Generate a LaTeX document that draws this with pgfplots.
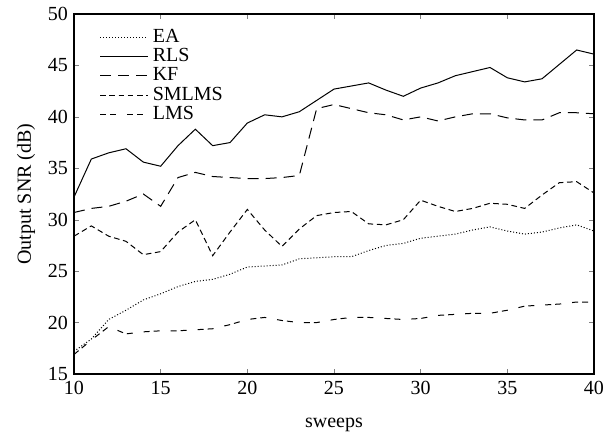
\documentclass[border=0pt]{standalone}
\usepackage{pgfplots}
\pgfplotsset{compat=1.18}
\usepackage{fontspec}
\setmainfont{Liberation Serif}
\begin{document}
\begin{tikzpicture}
\begin{axis}[
  name=main,
  scale only axis,
  width=260pt, height=180pt,
  xmin=10, xmax=40, ymin=15, ymax=50,
  xtick={10,15,...,40}, ytick={15,20,...,50},
  xticklabel={\pgfmathprintnumber{\tick}},
  yticklabel={\pgfmathprintnumber{\tick}},
  tick align=inside, major tick length=2.5pt,
  xtick pos=both, ytick pos=both,
  xlabel={sweeps}, ylabel={Output SNR (dB)},
  xlabel style={at={(axis description cs:0.5,-0.148)}, anchor=base},
  ylabel style={at={(axis description cs:-0.092,0.5)}, anchor=center},
  yticklabel style={xshift=0.5pt},
  font=\fontsize{10}{12}\selectfont,
  /pgf/number format/assume math mode=true,
  axis line style={line width=0.6pt},
  every axis plot/.append style={black, line width=0.5pt},
  legend style={at={(0.045,0.975)}, anchor=north west, draw=none, fill=none,
    row sep=-2.5pt, inner sep=1pt},
  legend cell align=left,
  legend image code/.code={\draw[#1] (0pt,0pt) -- (21pt,0pt);
    \path (0pt,0pt) -- (24pt,0pt);},
]
% EA
\addplot[densely dotted] coordinates {
(10,17.2) (11,18.4) (12,20.3) (13,21.2) (14,22.2) (15,22.8) (16,23.5) (17,24.0)
(18,24.2) (19,24.7) (20,25.4) (21,25.5) (22,25.6) (23,26.2) (24,26.3) (25,26.4)
(26,26.4) (27,27.0) (28,27.5) (29,27.7) (30,28.2) (31,28.4) (32,28.6) (33,29.0)
(34,29.3) (35,28.9) (36,28.6) (37,28.8) (38,29.2) (39,29.5) (40,28.9)};
\addlegendentry{EA}
% RLS
\addplot[solid] coordinates {
(10,32.2) (11,35.9) (12,36.5) (13,36.9) (14,35.6) (15,35.2) (16,37.2) (17,38.8)
(18,37.2) (19,37.5) (20,39.4) (21,40.2) (22,40.0) (23,40.5) (24,41.6) (25,42.7)
(26,43.0) (27,43.3) (28,42.6) (29,42.0) (30,42.8) (31,43.3) (32,44.0) (33,44.4)
(34,44.8) (35,43.8) (36,43.4) (37,43.7) (38,45.1) (39,46.5) (40,46.1)};
\addlegendentry{RLS}
% KF
\addplot[dash pattern=on 5.5pt off 3.5pt] coordinates {
(10,30.7) (11,31.1) (12,31.3) (13,31.8) (14,32.5) (15,31.3) (16,34.1) (17,34.6)
(18,34.2) (19,34.1) (20,34.0) (21,34.0) (22,34.1) (23,34.3) (24,40.8) (25,41.2)
(26,40.8) (27,40.4) (28,40.2) (29,39.7) (30,40.0) (31,39.6) (32,40.0) (33,40.3)
(34,40.3) (35,39.9) (36,39.7) (37,39.7) (38,40.4) (39,40.4) (40,40.3)};
\addlegendentry{KF}
% SMLMS
\addplot[dash pattern=on 2.8pt off 1.8pt] coordinates {
(10,28.4) (11,29.4) (12,28.4) (13,27.9) (14,26.6) (15,26.9) (16,28.8) (17,30.0)
(18,26.5) (19,28.8) (20,31.0) (21,29.0) (22,27.4) (23,29.1) (24,30.4) (25,30.7)
(26,30.8) (27,29.6) (28,29.5) (29,30.0) (30,31.9) (31,31.3) (32,30.8) (33,31.1)
(34,31.6) (35,31.5) (36,31.1) (37,32.4) (38,33.6) (39,33.7) (40,32.6)};
\addlegendentry{SMLMS}
% LMS
\addplot[dash pattern=on 3pt off 2pt on 3pt off 5.5pt] coordinates {
(10,16.9) (11,18.3) (12,19.6) (13,18.9) (14,19.1) (15,19.2) (16,19.2) (17,19.3)
(18,19.4) (19,19.8) (20,20.3) (21,20.5) (22,20.2) (23,20.0) (24,20.0) (25,20.3)
(26,20.5) (27,20.5) (28,20.4) (29,20.3) (30,20.4) (31,20.7) (32,20.8) (33,20.9)
(34,20.9) (35,21.2) (36,21.6) (37,21.7) (38,21.8) (39,22.0) (40,22.0)};
\addlegendentry{LMS}
\end{axis}
\pgfresetboundingbox
\path (main.south west) ++(-37pt,-30.5pt) rectangle ++(302.5pt,217.5pt);
\end{tikzpicture}
\end{document}
